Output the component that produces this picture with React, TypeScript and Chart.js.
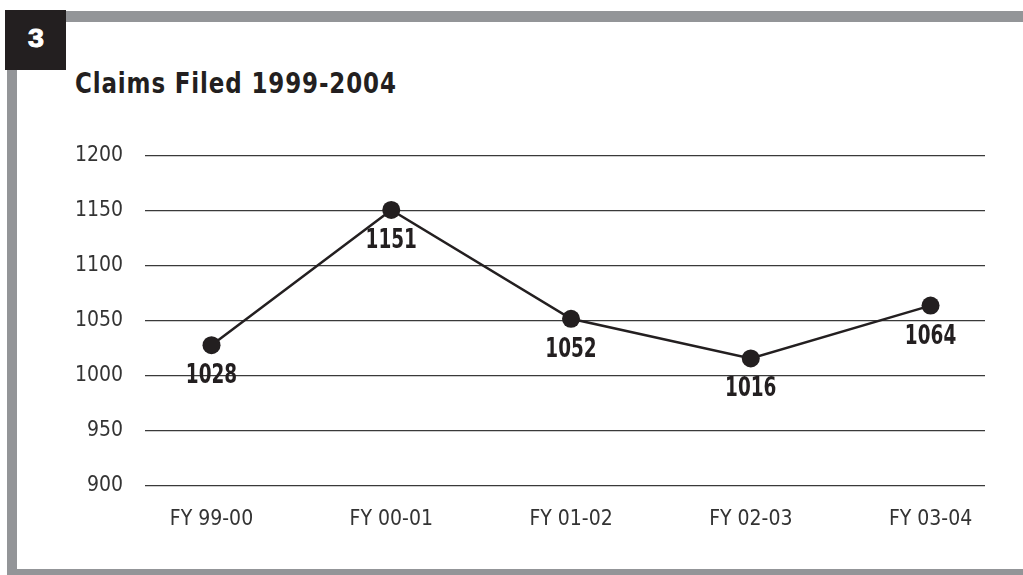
import React, { useEffect, useRef } from "react";
import { Chart, registerables } from "chart.js";

Chart.register(...registerables);

const figureNumber = "3";
const chartTitle = "Claims Filed 1999-2004";
const categories = ["FY 99-00", "FY 00-01", "FY 01-02", "FY 02-03", "FY 03-04"];
const claimsFiled = [1028, 1151, 1052, 1016, 1064];
const yMin = 900;
const yMax = 1200;
const yStep = 50;

const INK = "#231f20";
const FRAME_GRAY = "#939598";
const NARROW = '"Liberation Sans Narrow", "DejaVu Sans Condensed", "Liberation Sans", sans-serif';

const pointLabels = {
  id: "pointLabels",
  afterDatasetsDraw(chart: any) {
    const ctx = chart.ctx;
    const meta = chart.getDatasetMeta(0);
    ctx.save();
    ctx.font = `bold 27px ${NARROW}`;
    ctx.fillStyle = INK;
    ctx.textAlign = "center";
    ctx.textBaseline = "middle";
    meta.data.forEach((pt: any, i: number) => {
      ctx.save();
      ctx.translate(pt.x, pt.y + 31);
      ctx.scale(0.76, 1);
      ctx.fillText(String(claimsFiled[i]), 0, 0);
      ctx.restore();
    });
    ctx.restore();
  },
};

export default function App() {
  const canvasRef = useRef<HTMLCanvasElement | null>(null);

  useEffect(() => {
    if (!canvasRef.current) return;
    const chart = new Chart(canvasRef.current, {
      type: "line",
      data: {
        datasets: [
          {
            data: claimsFiled.map((v, i) => ({ x: i, y: v })),
            borderColor: INK,
            borderWidth: 2.5,
            pointRadius: 9,
            pointBackgroundColor: INK,
            pointBorderWidth: 0,
            tension: 0,
          },
        ],
      },
      options: {
        responsive: false,
        animation: false,
        events: [],
        layout: { padding: { top: 156, right: 38, bottom: 0, left: 0 } },
        plugins: {
          legend: { display: false },
          tooltip: { enabled: false },
        },
        scales: {
          x: {
            type: "linear",
            min: -0.37,
            max: 4.303,
            afterBuildTicks: (scale: any) => {
              scale.ticks = categories.map((_, i) => ({ value: i }));
            },
            afterFit: (scale: any) => {
              scale.height = 89;
            },
            grid: { display: false, drawTicks: false },
            border: { display: false },
            ticks: {
              autoSkip: false,
              maxRotation: 0,
              padding: 21,
              color: "#333333",
              font: { family: NARROW, size: 21 },
              callback: (v: any) => categories[Number(v)] ?? "",
            },
          },
          y: {
            min: yMin,
            max: yMax,
            afterFit: (scale: any) => {
              scale.width = 145;
            },
            grid: { color: "#3a3a3a", lineWidth: 1.3, drawTicks: false },
            border: { display: false },
            ticks: {
              stepSize: yStep,
              padding: 22,
              color: "#333333",
              font: { family: NARROW, size: 21 },
              callback: (v: any) => String(v),
            },
          },
        },
      },
      plugins: [pointLabels],
    });
    return () => chart.destroy();
  }, []);

  return (
    <div
      style={{
        position: "fixed",
        left: 0,
        top: 0,
        width: 1023,
        height: 575,
        background: "#ffffff",
        overflow: "hidden",
      }}
    >
      <div style={{ position: "absolute", left: 66, top: 11, width: 957, height: 11, background: FRAME_GRAY }} />
      <div style={{ position: "absolute", left: 7, top: 60, width: 10, height: 515, background: FRAME_GRAY }} />
      <div style={{ position: "absolute", left: 7, top: 569, width: 1016, height: 6, background: FRAME_GRAY }} />
      <div style={{ position: "absolute", left: 5, top: 10, width: 61, height: 60, background: INK }} />
      <div
        style={{
          position: "absolute",
          left: 28,
          top: 25,
          color: "#ffffff",
          fontFamily: '"Liberation Sans", Arial, sans-serif',
          fontWeight: 900,
          fontSize: 26,
          lineHeight: "26px",
          WebkitTextStroke: "1px #ffffff",
          transform: "scaleX(1.1)",
          transformOrigin: "left top",
        }}
      >
        {figureNumber}
      </div>
      <div
        style={{
          position: "absolute",
          left: 75,
          top: 69,
          color: INK,
          fontFamily: NARROW,
          fontWeight: 700,
          fontSize: 29,
          lineHeight: "29px",
          letterSpacing: "1px",
          whiteSpace: "nowrap",
          transform: "scaleX(0.88)",
          transformOrigin: "left top",
        }}
      >
        {chartTitle}
      </div>
      <canvas
        ref={canvasRef}
        width={1023}
        height={575}
        style={{ position: "absolute", left: 0, top: 0, width: 1023, height: 575, display: "block" }}
      />
    </div>
  );
}
